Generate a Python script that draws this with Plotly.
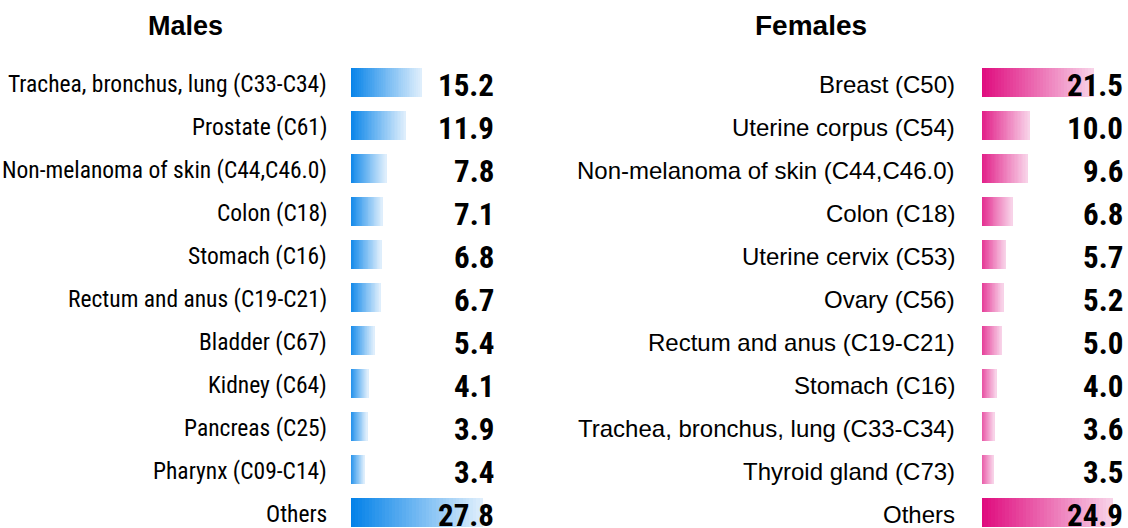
import plotly.graph_objects as go

male_sites = ["Trachea, bronchus, lung (C33-C34)", "Prostate (C61)", "Non-melanoma of skin (C44,C46.0)",
              "Colon (C18)", "Stomach (C16)", "Rectum and anus (C19-C21)", "Bladder (C67)",
              "Kidney (C64)", "Pancreas (C25)", "Pharynx (C09-C14)", "Others"]
male_values = [15.2, 11.9, 7.8, 7.1, 6.8, 6.7, 5.4, 4.1, 3.9, 3.4, 27.8]

female_sites = ["Breast (C50)", "Uterine corpus (C54)", "Non-melanoma of skin (C44,C46.0)",
                "Colon (C18)", "Uterine cervix (C53)", "Ovary (C56)", "Rectum and anus (C19-C21)",
                "Stomach (C16)", "Trachea, bronchus, lung (C33-C34)", "Thyroid gland (C73)", "Others"]
female_values = [21.5, 10.0, 9.6, 6.8, 5.7, 5.2, 5.0, 4.0, 3.6, 3.5, 24.9]

panel_titles = ["Males", "Females"]

W, H = 1128, 528
NSEG = 40

def lerp(c1, c2, t):
    return "rgb(%d,%d,%d)" % tuple(round(a + (b - a) * t) for a, b in zip(c1, c2))

fig = go.Figure()

def add_gradient_bars(sites, values, xaxis, yaxis, c_start, c_end):
    for k in range(NSEG):
        t = k / (NSEG - 1)
        fig.add_trace(go.Bar(
            y=[str(i) for i in range(len(sites))],
            x=[v / NSEG for v in values],
            orientation="h",
            marker=dict(color=lerp(c_start, c_end, t), line=dict(width=0)),
            width=0.67,
            xaxis=xaxis, yaxis=yaxis,
            showlegend=False, hoverinfo="skip",
        ))

add_gradient_bars(male_sites, male_values, "x", "y", (0, 128, 232), (222, 238, 252))
add_gradient_bars(female_sites, female_values, "x2", "y2", (222, 0, 120), (248, 210, 232))

row0 = 82.0
slot = 43.0
ytop = row0 - slot / 2
ybot_idx = (H - row0) / slot
ydom = [0, 1 - ytop / H]

fig.update_layout(
    width=W, height=H,
    margin=dict(l=0, r=0, t=0, b=0),
    paper_bgcolor="white", plot_bgcolor="white",
    barmode="stack", bargap=0,
    xaxis=dict(domain=[351 / W, 500 / W], range=[0.55, 0.55 + 149 / 4.84], visible=False),
    yaxis=dict(domain=ydom, type="category", range=[ybot_idx, -0.5], visible=False),
    xaxis2=dict(domain=[982 / W, 1.0], range=[1.43, 1.43 + 146 / 5.6], visible=False),
    yaxis2=dict(domain=ydom, type="category", range=[ybot_idx, -0.5], visible=False, anchor="x2"),
)

cond = "Roboto Condensed"
regular = "Liberation Sans"

anns = []
for i, (s, v) in enumerate(zip(male_sites, male_values)):
    anns.append(dict(x=329 / W, xref="paper", y=str(i), yref="y", text=s, showarrow=False,
                     xanchor="right", yanchor="middle", yshift=-2,
                     font=dict(family=cond, size=23.5, color="black")))
    anns.append(dict(x=496 / W, xref="paper", y=str(i), yref="y", text="%.1f" % v, showarrow=False,
                     xanchor="right", yanchor="middle", yshift=-3,
                     font=dict(family=cond, size=31, color="black", weight="bold")))
for i, (s, v) in enumerate(zip(female_sites, female_values)):
    anns.append(dict(x=957 / W, xref="paper", y=str(i), yref="y2", text=s, showarrow=False,
                     xanchor="right", yanchor="middle", yshift=-2,
                     font=dict(family=regular, size=24, color="black")))
    anns.append(dict(x=1125 / W, xref="paper", y=str(i), yref="y2", text="%.1f" % v, showarrow=False,
                     xanchor="right", yanchor="middle", yshift=-3,
                     font=dict(family=cond, size=31, color="black", weight="bold")))

anns.append(dict(x=185 / W, xref="paper", y=1 - 26 / H, yref="paper", text="<b>%s</b>" % panel_titles[0],
                 showarrow=False, xanchor="center", yanchor="middle",
                 font=dict(family=regular, size=27, color="black")))
anns.append(dict(x=811 / W, xref="paper", y=1 - 26 / H, yref="paper", text="<b>%s</b>" % panel_titles[1],
                 showarrow=False, xanchor="center", yanchor="middle",
                 font=dict(family=regular, size=28, color="black")))

fig.update_layout(annotations=anns)
fig.write_html("out.html", config={"displayModeBar": False},
               post_script="document.body.style.margin='0';")
